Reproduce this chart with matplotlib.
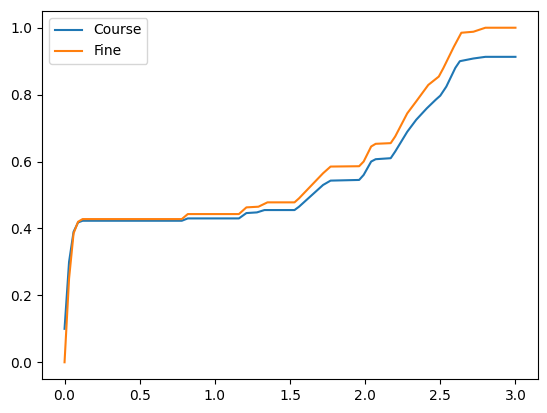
import numpy as np
import matplotlib.pyplot as plt

# Coarse ("Course") solution
x_course = [0.0, 0.03, 0.06, 0.09, 0.12, 0.78, 0.82, 1.16, 1.21, 1.28, 1.33, 1.53,
            1.56, 1.72, 1.77, 1.96, 1.99, 2.04, 2.07, 2.17, 2.20, 2.28, 2.34, 2.41,
            2.47, 2.50, 2.54, 2.60, 2.63, 2.72, 2.80, 3.00]
y_course = [0.10, 0.30, 0.39, 0.418, 0.423, 0.423, 0.430, 0.430, 0.446, 0.448, 0.455, 0.455,
            0.465, 0.530, 0.543, 0.545, 0.560, 0.600, 0.607, 0.610, 0.630, 0.689, 0.725, 0.759,
            0.785, 0.797, 0.824, 0.880, 0.900, 0.908, 0.913, 0.913]

# Fine solution
x_fine = [0.0, 0.03, 0.06, 0.09, 0.12, 0.78, 0.82, 1.16, 1.21, 1.29, 1.35, 1.53,
          1.56, 1.72, 1.77, 1.96, 1.99, 2.04, 2.07, 2.17, 2.20, 2.28, 2.34, 2.42,
          2.49, 2.52, 2.59, 2.64, 2.72, 2.80, 3.00]
y_fine = [0.0, 0.25, 0.385, 0.42, 0.428, 0.428, 0.443, 0.443, 0.463, 0.465, 0.478, 0.478,
          0.49, 0.565, 0.585, 0.586, 0.600, 0.645, 0.653, 0.655, 0.675, 0.744, 0.780, 0.829,
          0.854, 0.879, 0.943, 0.985, 0.988, 1.000, 1.000]

fig = plt.figure(figsize=(5.47, 4.13), dpi=100)
ax = fig.add_axes([42 / 547, 34 / 413, 496 / 547, 368 / 413])

ax.plot(x_course, y_course, label='Course')
ax.plot(x_fine, y_fine, label='Fine')
ax.legend(loc='upper left')

fig.savefig('out.png', dpi=100)
